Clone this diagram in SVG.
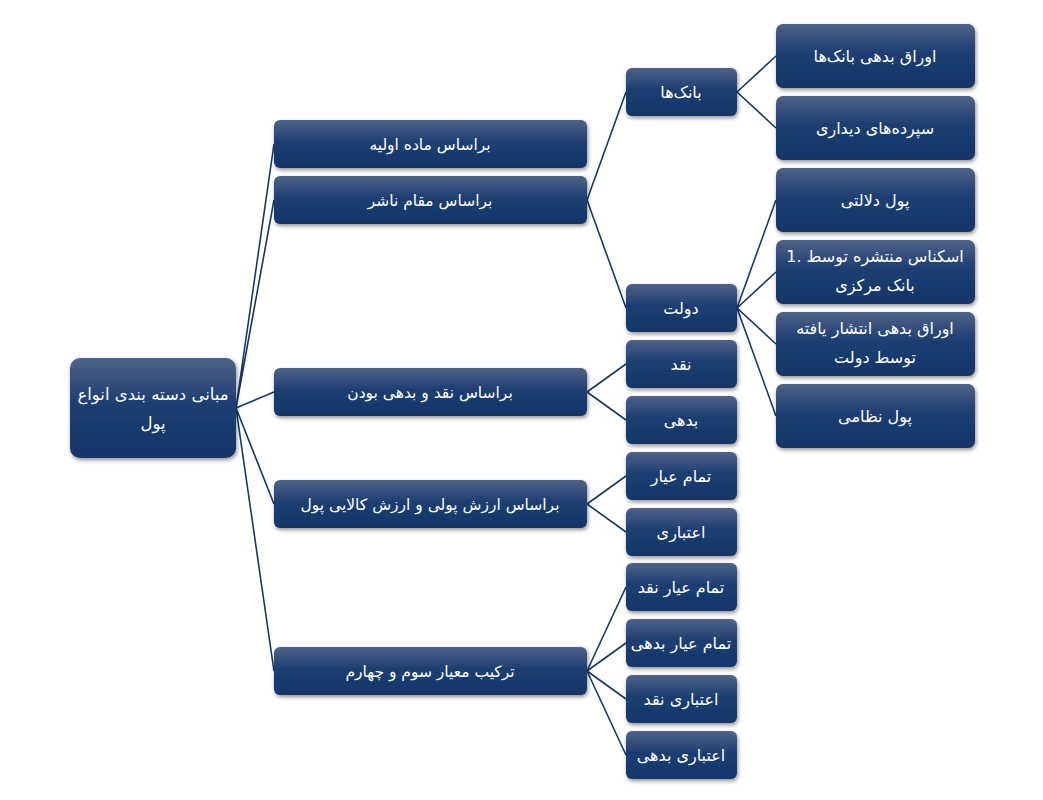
<svg xmlns="http://www.w3.org/2000/svg" width="1043" height="800" viewBox="0 0 1043 800">
<defs>
<linearGradient id="g" x1="0" y1="0" x2="0" y2="1">
<stop offset="0" stop-color="#4f6389"/>
<stop offset="0.45" stop-color="#1d3e71"/>
<stop offset="1" stop-color="#123569"/>
</linearGradient>
<filter id="sh" x="-10%" y="-10%" width="125%" height="130%">
<feGaussianBlur in="SourceAlpha" stdDeviation="2"/>
<feOffset dx="1" dy="2" result="b"/>
<feComponentTransfer><feFuncA type="linear" slope="0.45"/></feComponentTransfer>
<feMerge><feMergeNode/><feMergeNode in="SourceGraphic"/></feMerge>
</filter>
</defs>
<style>
.n{fill:url(#g);filter:url(#sh)}
.t{fill:#fff;font-family:"DejaVu Sans",sans-serif;font-size:15.5px;text-anchor:middle;direction:rtl}
.s{font-size:16px}
.c{stroke:#173766;stroke-width:1.6;fill:none}
</style>
<rect width="1043" height="800" fill="#fff"/>
<g id="connectors">
<path class="c" d="M236 408L274 144M236 408L274 200M236 408L274 392M236 408L274 504M236 408L274 671"/>
<path class="c" d="M587 200L626 92M587 200L626 308"/>
<path class="c" d="M737 92L776 56M737 92L776 128"/>
<path class="c" d="M737 308L776 200M737 308L776 272M737 308L776 344M737 308L776 416"/>
<path class="c" d="M587 392L626 364M587 392L626 420"/>
<path class="c" d="M587 504L626 476M587 504L626 532"/>
<path class="c" d="M587 671L626 587M587 671L626 643M587 671L626 699M587 671L626 755"/>
</g>
<g id="root"><rect class="n" x="70" y="358" width="166" height="100" rx="10"/><text class="t" style="font-size:16.5px" x="153" y="400">مبانی دسته بندی انواع</text><text class="t" style="font-size:16.5px" x="153" y="429">پول</text></g>
<g id="l1a"><rect class="n" x="274" y="120" width="313" height="48" rx="6"/><text class="t" x="430" y="150">براساس ماده اولیه</text></g>
<g id="l1b"><rect class="n" x="274" y="176" width="313" height="48" rx="6"/><text class="t" x="430" y="206">براساس مقام ناشر</text></g>
<g id="l1c"><rect class="n" x="274" y="368" width="313" height="48" rx="6"/><text class="t" x="430" y="398">براساس نقد و بدهی بودن</text></g>
<g id="l1d"><rect class="n" x="274" y="480" width="313" height="48" rx="6"/><text class="t" x="430" y="510">براساس ارزش پولی و ارزش کالایی پول</text></g>
<g id="l1e"><rect class="n" x="274" y="647" width="313" height="48" rx="6"/><text class="t" x="430" y="677">ترکیب معیار سوم و چهارم</text></g>
<g id="l2a"><rect class="n" x="626" y="68" width="111" height="48" rx="6"/><text class="t s" x="681" y="98">بانک‌ها</text></g>
<g id="l2b"><rect class="n" x="626" y="284" width="111" height="48" rx="6"/><text class="t s" x="681" y="314">دولت</text></g>
<g id="l2c"><rect class="n" x="626" y="340" width="111" height="48" rx="6"/><text class="t s" x="681" y="370">نقد</text></g>
<g id="l2d"><rect class="n" x="626" y="396" width="111" height="48" rx="6"/><text class="t s" x="681" y="426">بدهی</text></g>
<g id="l2e"><rect class="n" x="626" y="452" width="111" height="48" rx="6"/><text class="t s" x="681" y="482">تمام عیار</text></g>
<g id="l2f"><rect class="n" x="626" y="508" width="111" height="48" rx="6"/><text class="t s" x="681" y="538">اعتباری</text></g>
<g id="l2g"><rect class="n" x="626" y="563" width="111" height="48" rx="6"/><text class="t s" x="681" y="593">تمام عیار نقد</text></g>
<g id="l2h"><rect class="n" x="626" y="619" width="111" height="48" rx="6"/><text class="t s" x="681" y="649">تمام عیار بدهی</text></g>
<g id="l2i"><rect class="n" x="626" y="675" width="111" height="48" rx="6"/><text class="t s" x="681" y="705">اعتباری نقد</text></g>
<g id="l2j"><rect class="n" x="626" y="731" width="111" height="48" rx="6"/><text class="t s" x="681" y="761">اعتباری بدهی</text></g>
<g id="l3a"><rect class="n" x="776" y="24" width="199" height="64" rx="7"/><text class="t s" x="875" y="62">اوراق بدهی بانک‌ها</text></g>
<g id="l3b"><rect class="n" x="776" y="96" width="199" height="64" rx="7"/><text class="t s" x="875" y="134">سپرده‌های دیداری</text></g>
<g id="l3c"><rect class="n" x="776" y="168" width="199" height="64" rx="7"/><text class="t s" x="875" y="206">پول دلالتی</text></g>
<g id="l3d"><rect class="n" x="776" y="240" width="199" height="64" rx="7"/><text class="t s" x="875" y="262">اسکناس منتشره توسط .1</text><text class="t s" x="875" y="291">بانک مرکزی</text></g>
<g id="l3e"><rect class="n" x="776" y="312" width="199" height="64" rx="7"/><text class="t s" x="875" y="334">اوراق بدهی انتشار یافته</text><text class="t s" x="875" y="363">توسط دولت</text></g>
<g id="l3f"><rect class="n" x="776" y="384" width="199" height="64" rx="7"/><text class="t s" x="875" y="422">پول نظامی</text></g>
</svg>
